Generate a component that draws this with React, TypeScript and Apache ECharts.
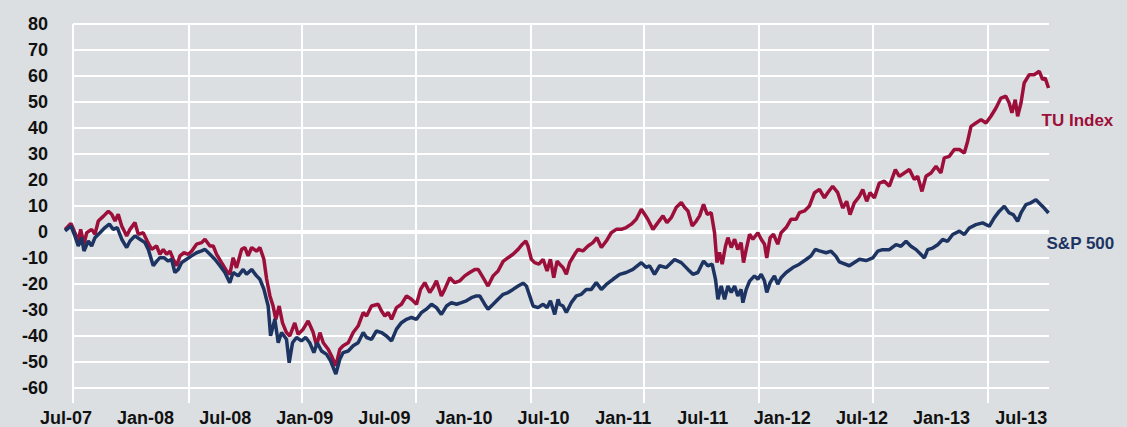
import React, { useEffect, useRef } from "react";
import * as echarts from "echarts";

// Time is stored as decimal years (2007.5 = Jul-07)
const tuYears = [
  2007.494, 2007.531, 2007.556, 2007.577, 2007.592, 2007.613, 2007.630, 2007.661, 2007.682, 2007.703,
  2007.734, 2007.766, 2007.787, 2007.808, 2007.828, 2007.850, 2007.881, 2007.902, 2007.933, 2007.954,
  2007.985, 2008.010, 2008.038, 2008.069, 2008.090, 2008.111, 2008.132, 2008.153, 2008.174, 2008.195,
  2008.216, 2008.241, 2008.268, 2008.289, 2008.320, 2008.352, 2008.373, 2008.404, 2008.425, 2008.446,
  2008.477, 2008.509, 2008.529, 2008.550, 2008.571, 2008.603, 2008.624, 2008.644, 2008.666, 2008.697,
  2008.718, 2008.743, 2008.760, 2008.781, 2008.801, 2008.818, 2008.839, 2008.860, 2008.885, 2008.906,
  2008.937, 2008.958, 2008.990, 2009.021, 2009.053, 2009.074, 2009.095, 2009.116, 2009.147, 2009.168,
  2009.195, 2009.220, 2009.241, 2009.273, 2009.304, 2009.335, 2009.367, 2009.388, 2009.419, 2009.461,
  2009.482, 2009.503, 2009.524, 2009.545, 2009.576, 2009.607, 2009.639, 2009.670, 2009.702, 2009.727,
  2009.754, 2009.785, 2009.806, 2009.827, 2009.858, 2009.879, 2009.911, 2009.942, 2009.974, 2010.005,
  2010.036, 2010.068, 2010.089, 2010.120, 2010.151, 2010.183, 2010.214, 2010.246, 2010.277, 2010.308,
  2010.340, 2010.367, 2010.388, 2010.402, 2010.423, 2010.444, 2010.471, 2010.497, 2010.522, 2010.543,
  2010.564, 2010.585, 2010.601, 2010.622, 2010.643, 2010.664, 2010.695, 2010.716, 2010.747, 2010.779,
  2010.810, 2010.835, 2010.863, 2010.894, 2010.925, 2010.957, 2010.988, 2011.019, 2011.051, 2011.082,
  2011.114, 2011.135, 2011.155, 2011.187, 2011.218, 2011.250, 2011.275, 2011.302, 2011.333, 2011.365,
  2011.386, 2011.407, 2011.434, 2011.459, 2011.480, 2011.505, 2011.528, 2011.553, 2011.574, 2011.589,
  2011.605, 2011.622, 2011.643, 2011.658, 2011.679, 2011.700, 2011.720, 2011.741, 2011.756, 2011.773,
  2011.794, 2011.815, 2011.846, 2011.867, 2011.888, 2011.902, 2011.923, 2011.944, 2011.971, 2011.992,
  2012.024, 2012.055, 2012.087, 2012.107, 2012.139, 2012.170, 2012.202, 2012.233, 2012.264, 2012.285,
  2012.316, 2012.348, 2012.379, 2012.404, 2012.425, 2012.452, 2012.484, 2012.505, 2012.530, 2012.551,
  2012.578, 2012.609, 2012.641, 2012.672, 2012.710, 2012.735, 2012.766, 2012.798, 2012.829, 2012.850,
  2012.877, 2012.902, 2012.934, 2012.965, 2012.996, 2013.017, 2013.049, 2013.080, 2013.112, 2013.143,
  2013.164, 2013.185, 2013.216, 2013.248, 2013.279, 2013.310, 2013.342, 2013.373, 2013.404, 2013.425,
  2013.442, 2013.463, 2013.478, 2013.499, 2013.519, 2013.551, 2013.582, 2013.614, 2013.635, 2013.651,
  2013.672,
];
const tuValues = [
  1, 3.3, -0.3, -3.5, 1, -4.7, -0.3, 1, -0.9, 4.2,
  6, 8, 6.8, 4.2, 6.8, 2.3, -1.5, 1, 3.6, -0.9,
  -0.3, -3.5, -6.7, -5.4, -8.6, -6.7, -8.6, -7.4, -10.5, -13,
  -9.2, -8, -8.6, -7.4, -4.7, -4.1, -2.8, -5.4, -5.4, -8.6,
  -11.8, -15, -16.3, -9.9, -13.8, -6.7, -6, -9.2, -6, -7.4,
  -6, -10.5, -18, -24.6, -28.5, -33.6, -28.5, -35, -38.7, -40,
  -35, -39.4, -37.4, -34.2, -38.7, -43.8, -38.7, -42.6, -45.1, -47.7,
  -51.5, -45.1, -43.8, -42.6, -38.7, -36.2, -31, -32.3, -28.5, -27.8,
  -30.4, -32.3, -31, -33.6, -29.1, -27.8, -24.6, -25.9, -27.8, -22.1,
  -19.5, -23.3, -21.4, -18.8, -24.6, -22.1, -17.6, -19.5, -18.8, -16.9,
  -15.6, -14.4, -14.4, -17.6, -20.8, -16.9, -15, -11.3, -9.9, -8.6,
  -6.7, -4.7, -3.5, -5.4, -10.5, -11.8, -12.4, -10.5, -15, -10.5,
  -17.6, -11.2, -12.4, -13.7, -16.3, -11.8, -8.6, -6.7, -7.3, -5.4,
  -4.1, -2.2, -6, -3.5, -0.3, 1, 1, 1.7, 3, 4.9,
  8.7, 6.8, 4.9, 1, 3.6, 6.2, 3.6, 5.5, 9.4, 11.3,
  9.4, 8.1, 2.3, 4.2, 6.2, 10.6, 6.8, 7.4, -0.3, -11.8,
  -7.9, -12.4, -5.4, -2.2, -6, -2.8, -6.7, -4.1, -11.8, -6.7,
  -0.9, -2.8, -0.3, -2.8, -4.7, -10, -2.2, -0.9, -4.7, -0.3,
  1.7, 4.9, 4.9, 7.4, 8.1, 10, 15.1, 16.4, 13.1, 15.1,
  17.6, 15.1, 9.2, 11.8, 6.7, 11.2, 13.7, 16.3, 11.8, 15.1,
  13.1, 18.8, 19.5, 17.6, 24, 21.4, 22.7, 24, 20.2, 21.4,
  15.6, 21.4, 22.7, 25.3, 22.7, 28.5, 29.1, 31.7, 31.7, 30.4,
  34.9, 40.6, 41.9, 43.2, 41.9, 44.5, 47.7, 51.5, 52.2, 49.6,
  45.8, 50.9, 44.5, 49.6, 57.3, 60.5, 60.5, 61.8, 58.6, 59.2,
  55.4,
];

const spYears = [
  2007.494, 2007.531, 2007.556, 2007.577, 2007.598, 2007.613, 2007.640, 2007.661, 2007.682, 2007.713,
  2007.745, 2007.772, 2007.797, 2007.822, 2007.850, 2007.881, 2007.902, 2007.933, 2007.964, 2007.996,
  2008.017, 2008.048, 2008.069, 2008.090, 2008.115, 2008.142, 2008.163, 2008.184, 2008.205, 2008.226,
  2008.257, 2008.289, 2008.320, 2008.352, 2008.373, 2008.404, 2008.435, 2008.467, 2008.498, 2008.529,
  2008.550, 2008.582, 2008.613, 2008.634, 2008.666, 2008.697, 2008.718, 2008.743, 2008.770, 2008.785,
  2008.812, 2008.833, 2008.854, 2008.885, 2008.902, 2008.923, 2008.948, 2008.979, 2009.006, 2009.031,
  2009.057, 2009.078, 2009.105, 2009.137, 2009.162, 2009.195, 2009.220, 2009.241, 2009.273, 2009.304,
  2009.335, 2009.367, 2009.388, 2009.419, 2009.450, 2009.482, 2009.513, 2009.545, 2009.576, 2009.607,
  2009.639, 2009.670, 2009.702, 2009.733, 2009.764, 2009.796, 2009.827, 2009.858, 2009.890, 2009.921,
  2009.953, 2009.984, 2010.015, 2010.047, 2010.078, 2010.099, 2010.130, 2010.151, 2010.183, 2010.214,
  2010.246, 2010.277, 2010.308, 2010.340, 2010.371, 2010.392, 2010.413, 2010.434, 2010.465, 2010.497,
  2010.522, 2010.543, 2010.570, 2010.591, 2010.601, 2010.622, 2010.643, 2010.674, 2010.706, 2010.737,
  2010.768, 2010.800, 2010.831, 2010.863, 2010.894, 2010.936, 2010.978, 2011.019, 2011.061, 2011.114,
  2011.145, 2011.166, 2011.197, 2011.229, 2011.271, 2011.323, 2011.365, 2011.407, 2011.438, 2011.469,
  2011.505, 2011.532, 2011.559, 2011.580, 2011.595, 2011.616, 2011.637, 2011.658, 2011.679, 2011.700,
  2011.720, 2011.741, 2011.752, 2011.773, 2011.794, 2011.825, 2011.846, 2011.867, 2011.888, 2011.902,
  2011.923, 2011.950, 2011.971, 2011.992, 2012.024, 2012.066, 2012.107, 2012.149, 2012.180, 2012.207,
  2012.233, 2012.275, 2012.306, 2012.337, 2012.358, 2012.421, 2012.484, 2012.526, 2012.568, 2012.599,
  2012.630, 2012.672, 2012.714, 2012.745, 2012.777, 2012.808, 2012.840, 2012.871, 2012.892, 2012.913,
  2012.944, 2012.976, 2013.007, 2013.038, 2013.070, 2013.112, 2013.143, 2013.174, 2013.216, 2013.258,
  2013.300, 2013.331, 2013.363, 2013.394, 2013.425, 2013.450, 2013.478, 2013.499, 2013.530, 2013.561,
  2013.593, 2013.624, 2013.645, 2013.672,
];
const spValues = [
  0.4, 2.3, -1.5, -5.4, -2.2, -7.3, -3.5, -5.4, -2.2, -0.3,
  1.7, 3, 1, 1.7, -2.8, -6, -3.5, -1.5, -2.8, -4.1,
  -6.7, -13, -11.3, -9.9, -9.9, -11.2, -10.5, -15.6, -14.4, -11.8,
  -10.5, -9.2, -8, -7.3, -6.7, -8.6, -10.5, -13, -15.6, -19.5,
  -15.6, -16.9, -14.4, -16.3, -14.4, -16.9, -18.2, -22, -28.5, -40,
  -33.6, -42.6, -38.7, -41.3, -50.3, -42.6, -40.6, -41.9, -40.6, -42.6,
  -46.4, -42.6, -45.8, -47.1, -49.6, -54.7, -49, -46.4, -45.8, -43.8,
  -42.6, -38.7, -40.6, -41.3, -38.1, -38.7, -40, -41.9, -37.4, -34.9,
  -33.6, -32.9, -33.6, -31, -29.7, -27.8, -29.1, -31.7, -28.5, -27.2,
  -27.8, -27.2, -26.5, -25.3, -24.6, -24.6, -27.8, -29.7, -27.8, -25.9,
  -24, -23.3, -22.1, -20.8, -19.7, -20.8, -24.6, -28.5, -29.1, -27.8,
  -29.1, -26.5, -31.7, -25.9, -27.8, -28.5, -31, -27.2, -24.6, -24,
  -22.1, -22.1, -19.5, -22.1, -20.2, -18.2, -16.3, -15.6, -14.4, -11.8,
  -13.7, -13, -16.3, -13, -13.7, -10.6, -11.8, -14.4, -16.3, -15.6,
  -11.2, -13, -12.4, -18.2, -25.9, -20.8, -25.9, -20.8, -23.3, -20.8,
  -24.6, -22.1, -27.2, -22.1, -18.9, -16.9, -18.2, -16.3, -18.9, -23.3,
  -19.5, -16.9, -20.1, -17.6, -15.6, -13.7, -12.4, -10.6, -9.2, -6.7,
  -7.3, -8, -7.4, -9.4, -11.5, -13, -10.5, -11, -10, -7.4,
  -6.8, -6.8, -4.9, -5.5, -3.6, -5.5, -6.8, -8.7, -10, -6.8,
  -6.2, -4.9, -2.9, -3.6, -1, 0.3, -1, 1.5, 2.8, 3.5,
  2.2, 5.4, 8, 9.9, 7.3, 6.7, 4.1, 7.3, 10.5, 11.2,
  12.4, 10.5, 9.2, 7.3,
];

const yTicks = [-60, -50, -40, -30, -20, -10, 0, 10, 20, 30, 40, 50, 60, 70, 80];
const xLabelYears = [2007.5, 2008, 2008.5, 2009, 2009.5, 2010, 2010.5, 2011, 2011.5, 2012, 2012.5, 2013, 2013.5];
const verticalGridYears = [2007.544, 2008.266, 2008.981, 2009.703, 2010.419, 2011.134, 2011.85, 2012.566, 2013.287];

const X_MIN = 2007.4937;
const X_MAX = 2013.675;
const FONT = "'Liberation Sans', Arial, sans-serif";
const RED = "#9c0f3a";
const NAVY = "#1d3463";

const zip = (xs: number[], ys: number[]) => xs.map((x, i) => [x, ys[i]]);

export default function App() {
  const ref = useRef<HTMLDivElement>(null);
  useEffect(() => {
    if (!ref.current) return;
    const chart = echarts.init(ref.current, undefined, { renderer: "svg" });
    const hLines = yTicks.map((v) => [
      { coord: [verticalGridYears[0], v], lineStyle: { color: "#ffffff", width: v === 0 ? 4 : 2, type: "solid" } },
      { coord: [X_MAX, v] },
    ]);
    const vLines = verticalGridYears.map((x) => ({ xAxis: x, lineStyle: { color: "#ffffff", width: 2, type: "solid" } }));
    chart.setOption({
      animation: false,
      backgroundColor: "#dcdfe1",
      grid: { left: 65, right: 78, top: 24, bottom: 24, containLabel: false },
      xAxis: {
        type: "value",
        min: X_MIN,
        max: X_MAX,
        splitLine: { show: false },
        axisLine: { show: false },
        axisTick: { show: false, customValues: xLabelYears },
        axisLabel: {
          customValues: xLabelYears,
          margin: 6,
          color: "#111111",
          fontFamily: FONT,
          fontWeight: "bold",
          fontSize: 18,
          formatter: (v: number) => {
            const half = Math.round(v * 2);
            const yr = Math.floor(half / 2);
            const mon = half % 2 === 1 ? "Jul" : "Jan";
            return mon + "-" + String(yr % 100).padStart(2, "0");
          },
        },
      },
      yAxis: {
        type: "value",
        min: -65.8,
        max: 80,
        splitLine: { show: false },
        axisLine: { show: false },
        axisTick: { show: false, customValues: yTicks },
        axisLabel: {
          customValues: yTicks,
          margin: 17,
          color: "#111111",
          fontFamily: FONT,
          fontWeight: "bold",
          fontSize: 18,
        },
      },
      series: [
        {
          name: "TU Index",
          type: "line",
          data: zip(tuYears, tuValues),
          showSymbol: false,
          symbol: "none",
          z: 3,
          clip: false,
          lineStyle: { color: RED, width: 3.5 },
          itemStyle: { color: RED },
          endLabel: {
            show: true,
            formatter: "TU Index",
            offset: [-15, 33],
            color: RED,
            fontFamily: FONT,
            fontWeight: "bold",
            fontSize: 17,
          },
          markLine: {
            silent: true,
            symbol: ["none", "none"],
            z: 1,
            label: { show: false },
            animation: false,
            data: [...hLines, ...vLines],
          },
        },
        {
          name: "S&P 500",
          type: "line",
          data: zip(spYears, spValues),
          showSymbol: false,
          symbol: "none",
          z: 4,
          clip: false,
          lineStyle: { color: NAVY, width: 3.5 },
          itemStyle: { color: NAVY },
          endLabel: {
            show: true,
            formatter: "S&P 500",
            offset: [-10, 31],
            color: NAVY,
            fontFamily: FONT,
            fontWeight: "bold",
            fontSize: 17,
          },
        },
      ],
    });
    return () => chart.dispose();
  }, []);
  return (
    <div
      ref={ref}
      style={{ position: "fixed", left: 0, top: 0, width: 1127, height: 427, background: "#dcdfe1" }}
    />
  );
}
